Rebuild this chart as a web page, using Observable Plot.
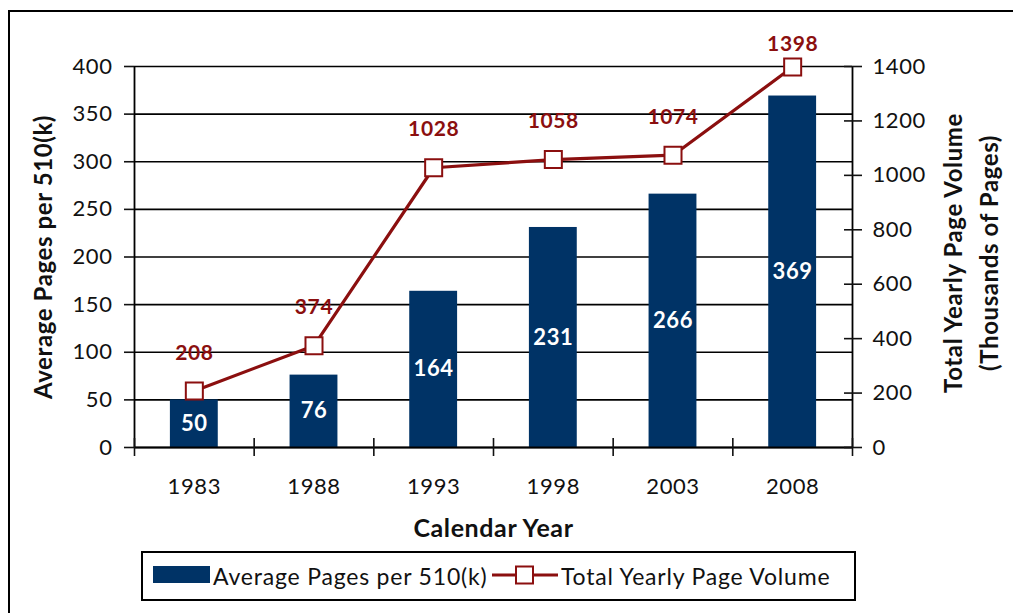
<!DOCTYPE html>
<html>
<head>
<meta charset="utf-8">
<script src="https://cdn.jsdelivr.net/npm/d3@7"></script>
<script src="https://cdn.jsdelivr.net/npm/@observablehq/plot@0.6"></script>
<style>
  html, body { margin: 0; padding: 0; background: #fff; overflow: hidden; width: 1013px; height: 613px; }
  #wrap { position: relative; width: 1013px; height: 613px; font-family: Lato, "Open Sans", sans-serif; }
  #frame { position: absolute; left: 8px; top: 10px; width: 1100px; height: 700px; border: 2.5px solid #000; box-sizing: border-box; }
  #chart { position: absolute; left: 0; top: 0; }
  #chart svg text { letter-spacing: 0.6px; }
  #legend { position: absolute; left: 141px; top: 551px; width: 715px; height: 50px; border: 2px solid #000; box-sizing: border-box; background: #fff; }
  .lg { position: absolute; top: 0; height: 46px; line-height: 46px; font-size: 23px; letter-spacing: 0.8px; color: #111; white-space: nowrap; }
</style>
</head>
<body>
<div id="wrap">
  <div id="frame"></div>
  <div id="chart"></div>
  <div id="legend"></div>
</div>
<script>
const years = [1983, 1988, 1993, 1998, 2003, 2008];
const avgPages = [50, 76, 164, 231, 266, 369];
const totalVolume = [208, 374, 1028, 1058, 1074, 1398];
const leftTicks = [0, 50, 100, 150, 200, 250, 300, 350, 400];
const rightTicks = [0, 200, 400, 600, 800, 1000, 1200, 1400];
const seriesNames = ["Average Pages per 510(k)", "Total Yearly Page Volume"];
const leftTitle = "Average Pages per 510(k)";
const rightTitle = "Total Yearly Page Volume\n(Thousands of Pages)";
const xTitle = "Calendar Year";

const barColor = "#003366";
const lineColor = "#8b0f0f";
const k = 400 / 1400; // right-axis to left-axis ratio

const data = years.map((year, i) => ({year, avg: avgPages[i], vol: totalVolume[i], last: i === years.length - 1}));
const boundaries = years.map(y => y - 2.5).concat([years[years.length - 1] + 2.5]);

const chart = Plot.plot({
  width: 1013,
  height: 545,
  marginLeft: 134,
  marginRight: 161,
  marginTop: 66,
  marginBottom: 98,
  style: {fontFamily: "Lato, 'Open Sans', sans-serif", fontSize: "22px", color: "#111", background: "transparent"},
  x: {domain: [boundaries[0], boundaries[boundaries.length - 1]]},
  y: {domain: [0, 400]},
  marks: [
    Plot.gridY(leftTicks, {stroke: "#000", strokeOpacity: 1, strokeWidth: 1.6}),
    Plot.rectY(data, {x1: d => d.year - 1, x2: d => d.year + 1, y: "avg", fill: barColor}),
    Plot.ruleX([boundaries[0], boundaries[boundaries.length - 1]], {y1: 0, y2: 400, stroke: "#000", strokeWidth: 1.8}),
    Plot.ruleY([0], {stroke: "#000", strokeWidth: 2}),
    // left axis
    Plot.axisY(leftTicks, {anchor: "left", tickSize: 10, tickPadding: 12, strokeWidth: 1.6, label: null}),
    // right axis
    Plot.axisY(rightTicks.map(v => v * k), {anchor: "right", tickSize: 9, tickPadding: 11, strokeWidth: 1.6, tickFormat: d => String(Math.round(d / k)), label: null}),
    Plot.axisY(rightTicks.map(v => v * k), {anchor: "right", tickSize: -9, strokeWidth: 1.6, tickFormat: () => "", label: null}),
    // x axis
    Plot.axisX(years, {anchor: "bottom", tickSize: 0, tickPadding: 31, tickFormat: d => String(d), label: null}),
    Plot.axisX(boundaries, {anchor: "bottom", tickSize: 9, strokeWidth: 1.6, tickFormat: () => "", label: null}),
    Plot.axisX(boundaries, {anchor: "bottom", tickSize: -9, strokeWidth: 1.6, tickFormat: () => "", label: null}),
    // bar labels
    Plot.text(data, {x: "year", y: d => d.avg / 2, text: d => String(d.avg), fill: "#fff", fontWeight: "bold", fontSize: 22}),
    // line
    Plot.line(data, {x: "year", y: d => d.vol * k, stroke: lineColor, strokeWidth: 3.2}),
    Plot.dot(data, {x: "year", y: d => d.vol * k, symbol: "square", r: 9.6, fill: "#fff", stroke: lineColor, strokeWidth: 2}),
    Plot.text(data.filter(d => !d.last), {x: "year", y: d => d.vol * k, text: d => String(d.vol), dy: -38, fill: lineColor, fontWeight: "bold", fontSize: 21}),
    Plot.text(data.filter(d => d.last), {x: "year", y: d => d.vol * k, text: d => String(d.vol), dy: -23, fill: lineColor, fontWeight: "bold", fontSize: 21}),
    // titles
    Plot.text([leftTitle], {frameAnchor: "left", textAnchor: "middle", lineAnchor: "middle", dx: -90, dy: 0, rotate: -90, text: d => d, fontWeight: "bold", fontSize: 24, fill: "#111"}),
    Plot.text([rightTitle], {frameAnchor: "right", textAnchor: "middle", lineAnchor: "middle", dx: 116, dy: -4, rotate: -90, text: d => d, fontWeight: "bold", fontSize: 24, lineHeight: 1.5, fill: "#111"}),
    Plot.text([xTitle], {frameAnchor: "bottom", dy: 89, text: d => d, fontWeight: "bold", fontSize: 25, fill: "#111"})
  ]
});
document.getElementById("chart").appendChild(chart);

// legend
const legend = document.getElementById("legend");
legend.innerHTML = `
  <div style="position:absolute;left:10px;top:13px;width:57px;height:17px;background:${barColor}"></div>
  <div class="lg" style="left:70px">${seriesNames[0]}</div>
  <svg style="position:absolute;left:349px;top:0" width="66" height="46">
    <line x1="0" y1="22" x2="66" y2="22" stroke="${lineColor}" stroke-width="3.2"/>
    <rect x="24" y="13.5" width="17" height="17" fill="#fff" stroke="${lineColor}" stroke-width="2"/>
  </svg>
  <div class="lg" style="left:418px">${seriesNames[1]}</div>
`;
</script>
</body>
</html>
